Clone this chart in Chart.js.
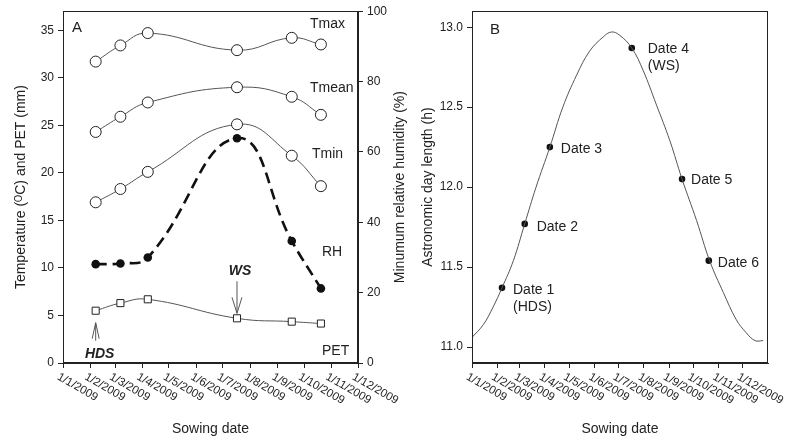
<!DOCTYPE html>
<html>
<head>
<meta charset="utf-8">
<script src="https://cdn.jsdelivr.net/npm/chart.js@4.4.1/dist/chart.umd.min.js"></script>
<style>
  html, body { margin:0; padding:0; background:#fff; }
  #wrap { position:relative; width:800px; height:439px; }
  canvas { position:absolute; top:0; }
  #chartA { left:0; }
  #chartB { left:420px; }
</style>
</head>
<body>
<div id="wrap">
  <canvas id="chartA" width="420" height="439"></canvas>
  <canvas id="chartB" width="380" height="439"></canvas>
</div>
<script>
// ---- values ----
// sowing dates as day of year (0 = 1 Jan 2009)
const sowDays = [37, 65, 96, 197, 259, 292];
const monthDays = [0, 31, 59, 90, 120, 151, 181, 212, 243, 273, 304, 334];
const monthLabels = ['1/1/2009','1/2/2009','1/3/2009','1/4/2009','1/5/2009','1/6/2009',
                     '1/7/2009','1/8/2009','1/9/2009','1/10/2009','1/11/2009','1/12/2009'];

// panel A
const tmax  = [31.7, 33.4, 34.7, 32.9, 34.2, 33.5];
const tmean = [24.3, 25.9, 27.4, 29.0, 28.0, 26.1];
const tmin  = [16.9, 18.3, 20.1, 25.1, 21.8, 18.6];
const rh    = [28.1, 28.3, 30.0, 63.9, 34.7, 21.2];   // right axis, %
const pet   = [5.5, 6.3, 6.7, 4.7, 4.35, 4.15];

// panel B
const dayLenDays = [0, 14, 26, 37, 51, 65, 79, 96, 112, 129, 145, 162, 172, 182,
                    197, 211, 227, 244, 259, 277, 293, 310, 326, 338, 349, 359];
const dayLen = [11.06, 11.14, 11.25, 11.37, 11.54, 11.77, 12.00, 12.25, 12.50, 12.70, 12.85, 12.94, 12.97, 12.95,
                12.87, 12.73, 12.52, 12.29, 12.05, 11.79, 11.54, 11.34, 11.17, 11.09, 11.04, 11.04];
const sowDayLen = [11.37, 11.77, 12.25, 12.87, 12.05, 11.54];
const dateNames = ['Date 1', 'Date 2', 'Date 3', 'Date 4', 'Date 5', 'Date 6'];
const dateNotes = ['(HDS)', '', '', '(WS)', '', ''];

// ---- look ----
const INK = '#222';
const FONT = "'Liberation Sans', Arial, sans-serif";
Chart.defaults.font.family = FONT;
Chart.defaults.color = INK;

const xy = (xs, ys) => xs.map((x, i) => ({ x: x, y: ys[i] }));
const f = (size, style) => (style ? style + ' ' : '') + size + 'px ' + FONT;

function dateAxis(max) {
  return {
    type: 'linear', min: 0, max: max,
    afterBuildTicks: s => { s.ticks = monthDays.map(v => ({ value: v })); },
    afterFit: s => { s.height = 76; },
    ticks: { display: false },
    grid: { drawOnChartArea: false, drawTicks: true, tickLength: 5, color: INK },
    border: { color: INK },
    title: { display: true, text: 'Sowing date', font: { size: 14 }, padding: { top: 0, bottom: 1 } }
  };
}

function valueAxis(pos, opts) {
  return Object.assign({
    position: pos,
    ticks: { padding: 4, font: { size: 12 }, color: INK, includeBounds: false },
    grid: { drawOnChartArea: false, tickLength: 5, color: INK },
    border: { color: INK }
  }, opts);
}

// slanted month labels (start at the tick and run down to the right)
const slantLabels = {
  id: 'slantLabels',
  afterDraw(chart) {
    const { ctx, chartArea } = chart;
    const sx = chart.scales.x;
    ctx.save();
    ctx.fillStyle = INK;
    ctx.font = f(11.5);
    ctx.textAlign = 'left';
    ctx.textBaseline = 'top';
    monthDays.forEach((d, i) => {
      ctx.save();
      ctx.translate(sx.getPixelForValue(d) - 2, chartArea.bottom + 8);
      ctx.rotate(30 * Math.PI / 180);
      ctx.fillText(monthLabels[i], 0, 0);
      ctx.restore();
    });
    ctx.restore();
  }
};

const frame = {
  id: 'frame',
  afterDraw(chart) {
    const { ctx, chartArea: a } = chart;
    ctx.save();
    ctx.strokeStyle = INK;
    ctx.lineWidth = 1;
    const l = Math.round(a.left) + 0.5, t = Math.round(a.top) + 0.5;
    const r = Math.round(a.right) - 0.5, b = Math.round(a.bottom) - 0.5;
    ctx.strokeRect(l, t, r - l, b - t);
    ctx.restore();
  }
};

function arrow(ctx, x, y0, y1, half) {
  const dir = y1 > y0 ? -1 : 1;
  ctx.beginPath();
  ctx.moveTo(x, y0); ctx.lineTo(x, y1);
  ctx.moveTo(x - half, y1 + dir * 16); ctx.lineTo(x, y1); ctx.lineTo(x + half, y1 + dir * 16);
  ctx.stroke();
}

const notesA = {
  id: 'notesA',
  afterDatasetsDraw(chart) {
    const { ctx, chartArea: a, scales } = chart;
    ctx.save();
    ctx.fillStyle = INK;
    ctx.textBaseline = 'alphabetic';
    ctx.textAlign = 'left';
    ctx.font = f(15);
    ctx.fillText('A', a.left + 9, a.top + 21);
    ctx.font = f(14);
    ctx.fillText('Tmax', a.right - 48, a.top + 17);
    ctx.fillText('Tmean', a.right - 48, a.top + 81);
    ctx.fillText('Tmin', a.right - 46, a.top + 147);
    ctx.fillText('RH', a.right - 36, a.top + 245);
    ctx.fillText('PET', a.right - 36, a.top + 344);

    // WS and HDS arrows pointing at PET marks
    const wx = scales.x.getPixelForValue(sowDays[3]);
    const wy = scales.y.getPixelForValue(pet[3]);
    const hx = scales.x.getPixelForValue(sowDays[0]);
    const hy = scales.y.getPixelForValue(pet[0]);
    ctx.strokeStyle = '#555';
    ctx.lineWidth = 1;
    arrow(ctx, wx, wy - 37, wy - 5, 5);
    arrow(ctx, hx, hy + 30, hy + 12, 3.5);
    ctx.font = f(14, 'italic bold');
    ctx.textAlign = 'center';
    ctx.fillText('WS', wx + 3, wy - 43);
    ctx.fillText('HDS', hx + 4, hy + 47);

    // right axis title, reading bottom to top
    ctx.font = f(14);
    ctx.textBaseline = 'middle';
    ctx.translate(400, (a.top + a.bottom) / 2);
    ctx.rotate(-Math.PI / 2);
    ctx.fillText('Minumum relative humidity (%)', 0, 0);
    ctx.restore();
  }
};

const labelOffsets = [[11, 6], [12, 7], [11, 6], [16, 5], [9, 5], [9, 6]];
const notesB = {
  id: 'notesB',
  afterDatasetsDraw(chart) {
    const { ctx, chartArea: a, scales } = chart;
    ctx.save();
    ctx.fillStyle = INK;
    ctx.textBaseline = 'alphabetic';
    ctx.textAlign = 'left';
    ctx.font = f(15);
    ctx.fillText('B', a.left + 18, a.top + 23);
    ctx.font = f(14);
    sowDays.forEach((d, i) => {
      const px = scales.x.getPixelForValue(d) + labelOffsets[i][0];
      const py = scales.y.getPixelForValue(sowDayLen[i]) + labelOffsets[i][1];
      ctx.fillText(dateNames[i], px, py);
      if (dateNotes[i]) ctx.fillText(dateNotes[i], px, py + 17);
    });
    ctx.restore();
  }
};

const openMark = {
  pointRadius: 5.5, pointHoverRadius: 5.5,
  pointBackgroundColor: '#fff', pointBorderColor: INK, pointBorderWidth: 1,
  borderColor: '#555', borderWidth: 1, tension: 0.45, yAxisID: 'y'
};

new Chart(document.getElementById('chartA'), {
  type: 'line',
  data: {
    datasets: [
      Object.assign({ label: 'Tmax', data: xy(sowDays, tmax) }, openMark),
      Object.assign({ label: 'Tmean', data: xy(sowDays, tmean) }, openMark),
      Object.assign({ label: 'Tmin', data: xy(sowDays, tmin) }, openMark),
      Object.assign({ label: 'PET', data: xy(sowDays, pet) }, openMark, { pointStyle: 'rect', pointRadius: 5 }),
      {
        label: 'RH', data: xy(sowDays, rh), yAxisID: 'yRH',
        borderColor: '#111', borderWidth: 2.6, borderDash: [11, 6], tension: 0.45,
        pointRadius: 4.3, pointBackgroundColor: '#111', pointBorderColor: '#111', pointBorderWidth: 0
      }
    ]
  },
  options: {
    responsive: false, animation: false,
    layout: { padding: { top: 10, left: 0, right: 0, bottom: 0 } },
    plugins: { legend: { display: false }, tooltip: { enabled: false } },
    scales: {
      x: dateAxis(334),
      y: valueAxis('left', {
        min: 0, max: 37,
        afterFit: s => { s.width = 63; },
        ticks: { stepSize: 5, padding: 4, font: { size: 12 }, color: INK, includeBounds: false },
        title: { display: true, text: 'Temperature (ᴼC) and PET (mm)', font: { size: 14 }, padding: { top: 13, bottom: 0 } }
      }),
      yRH: valueAxis('right', {
        min: 0, max: 100,
        afterFit: s => { s.width = 62; },
        ticks: { stepSize: 20, padding: 4, font: { size: 12 }, color: INK, includeBounds: false }
      })
    }
  },
  plugins: [slantLabels, frame, notesA]
});

new Chart(document.getElementById('chartB'), {
  type: 'line',
  data: {
    datasets: [
      {
        label: 'Day length', data: xy(dayLenDays, dayLen),
        borderColor: '#555', borderWidth: 1, pointRadius: 0, tension: 0.4
      },
      {
        label: 'Sowing dates', data: xy(sowDays, sowDayLen), showLine: false,
        pointRadius: 3.3, pointBackgroundColor: '#111', pointBorderColor: '#111', pointBorderWidth: 0
      }
    ]
  },
  options: {
    responsive: false, animation: false,
    layout: { padding: { top: 9, left: 0, right: 32, bottom: 0 } },
    plugins: { legend: { display: false }, tooltip: { enabled: false } },
    scales: {
      x: dateAxis(365),
      y: valueAxis('left', {
        min: 10.9, max: 13.1,
        afterFit: s => { s.width = 52; },
        ticks: { stepSize: 0.5, padding: 4, font: { size: 12 }, color: INK, includeBounds: false,
                 callback: v => v.toFixed(1) },
        title: { display: true, text: 'Astronomic day length (h)', font: { size: 14 }, padding: { top: 0, bottom: 0 } }
      })
    }
  },
  plugins: [slantLabels, frame, notesB]
});
</script>
</body>
</html>
